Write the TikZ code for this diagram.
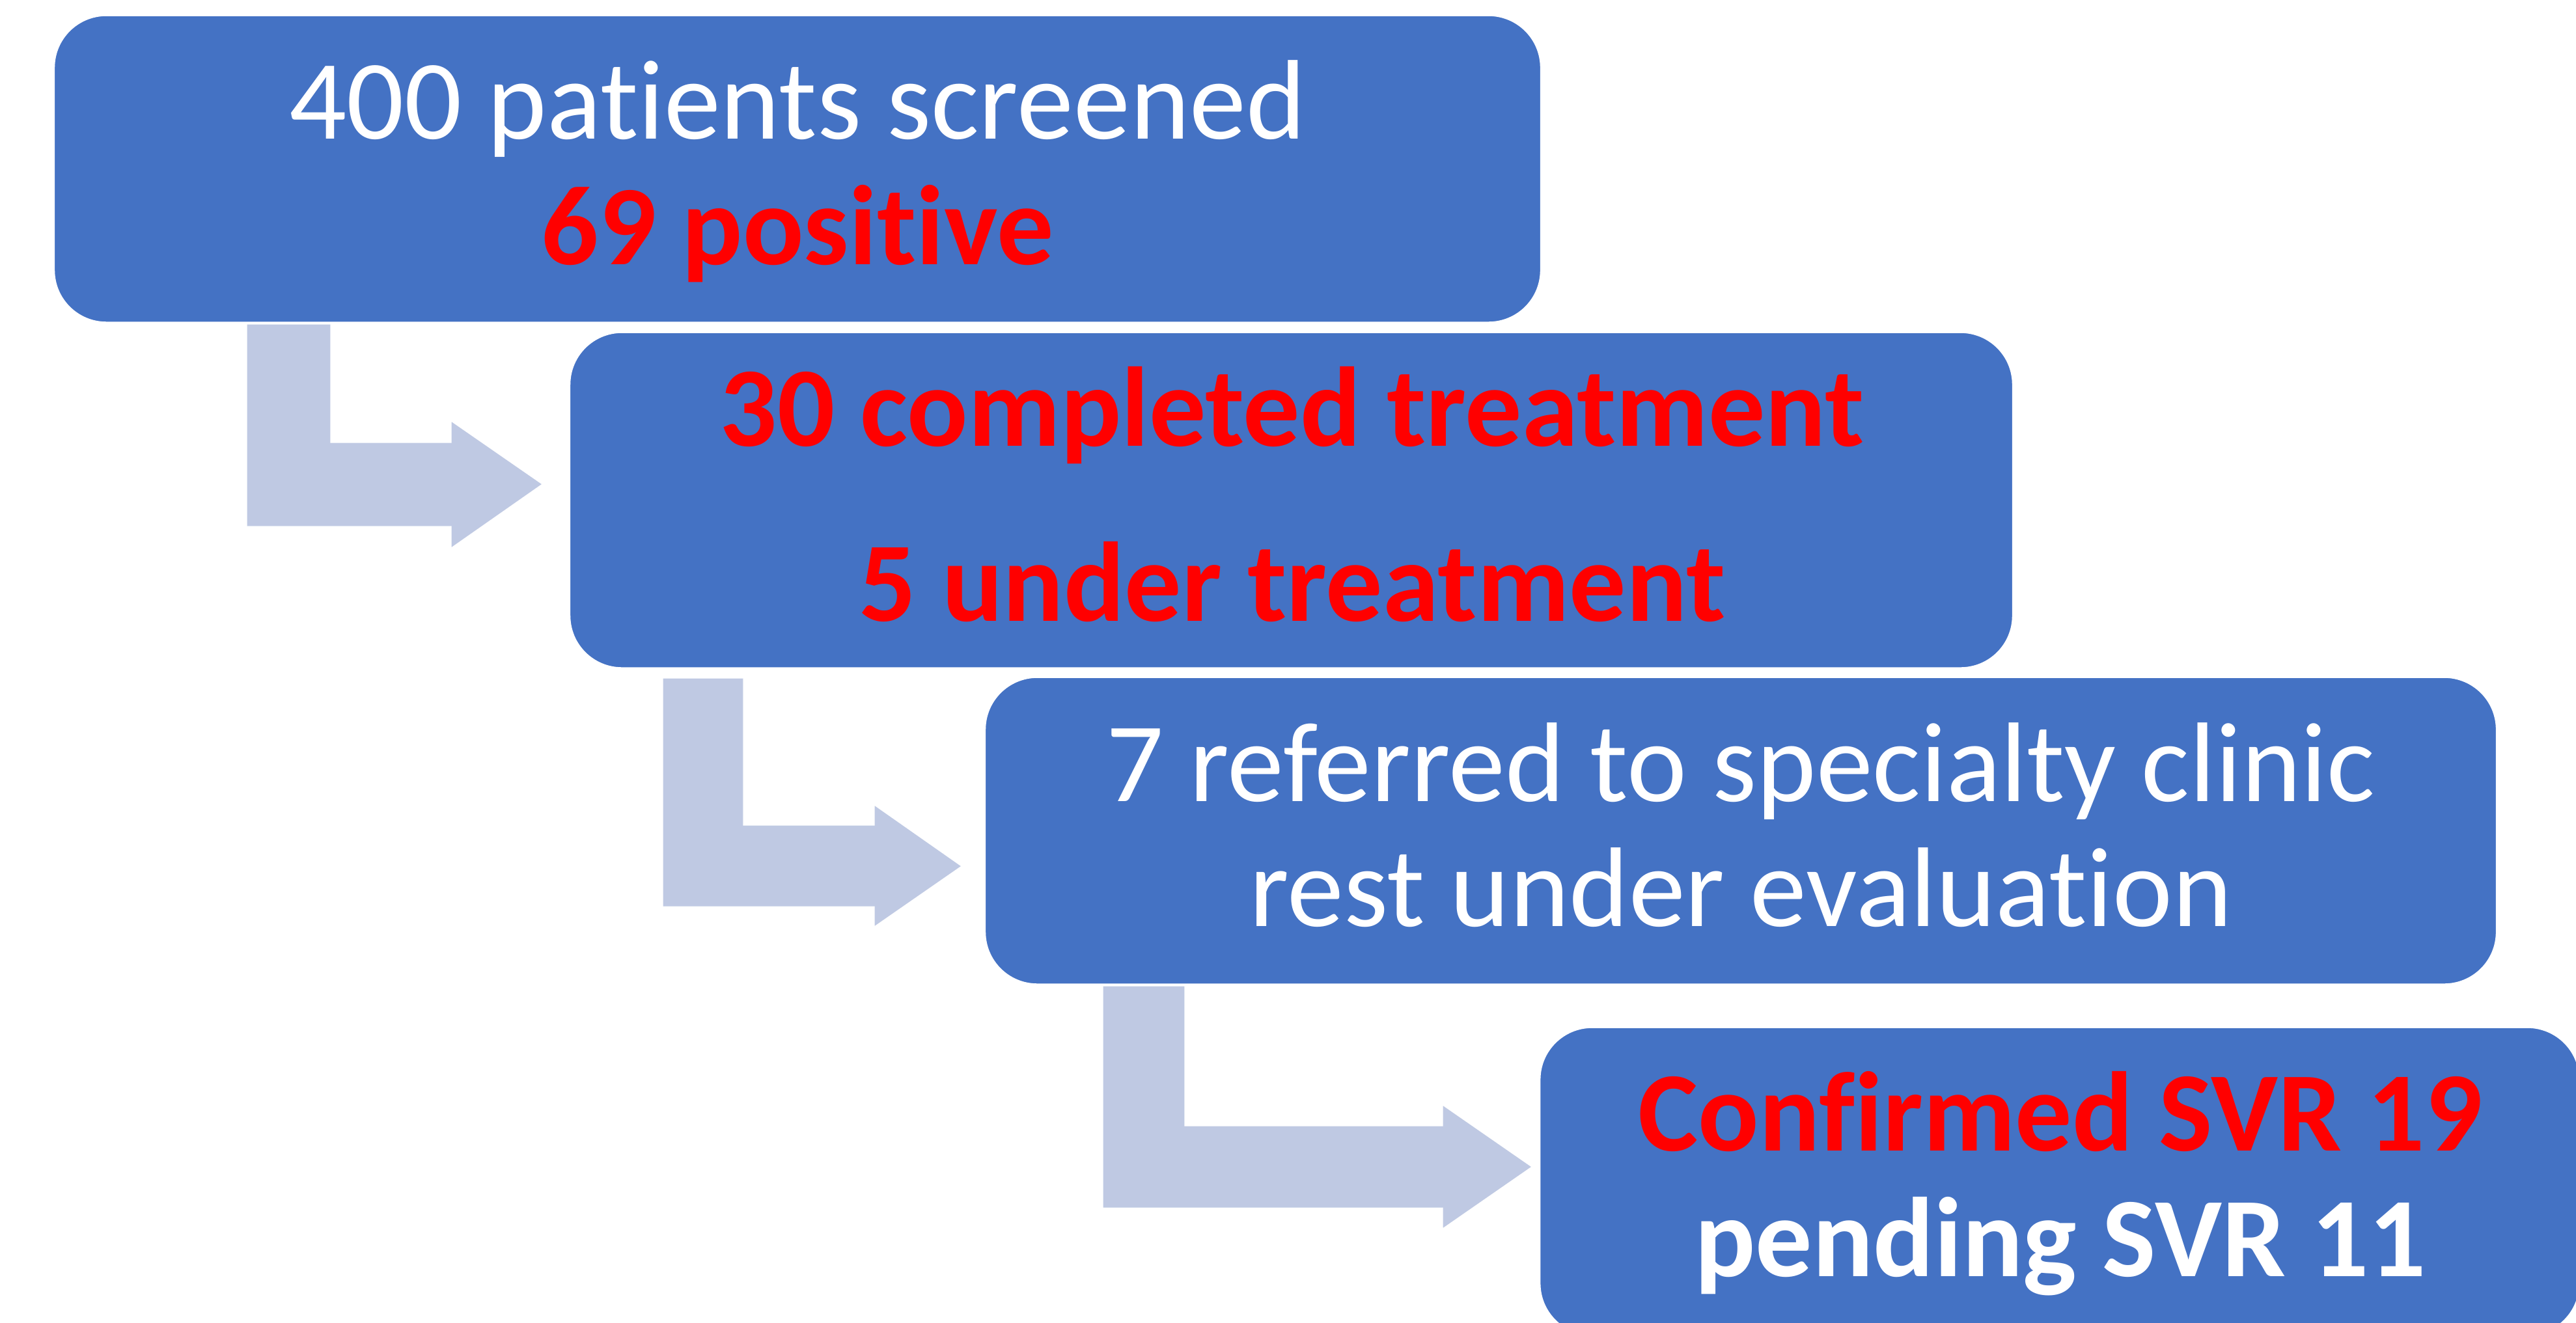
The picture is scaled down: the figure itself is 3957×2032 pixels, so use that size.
\documentclass[tikz,border=0pt]{standalone}
\usepackage{fontspec}
\setmainfont[Ligatures={NoCommon,NoRare}]{Carlito}
\definecolor{stageblue}{HTML}{4472C4}
\definecolor{flowgray}{RGB}{191,201,227}
\definecolor{alertred}{HTML}{FF0000}

\begin{document}
\begin{tikzpicture}[x=0.01cm, y=-0.01cm,
  stage/.style={rectangle, fill=stageblue, draw=white, line width=0.5pt,
                rounded corners=0.8cm, inner sep=0pt},
  bentarrow/.style={fill=flowgray, draw=white, line width=0.3pt},
  plain/.style={anchor=base, inner sep=0pt, text=white,
                font=\fontsize{49.5}{59}\selectfont},
  boldwhite/.style={anchor=base, inner sep=0pt, text=white,
                font=\fontsize{49.5}{59}\selectfont\bfseries},
  boldred/.style={anchor=base, inner sep=0pt, text=alertred,
                font=\fontsize{49.5}{59}\selectfont\bfseries}]

  % canvas
  \path[use as bounding box] (0,0) rectangle (3957,2032);
  \clip (0,0) rectangle (3957,2032);
  \fill[white] (0,0) rectangle (3957,2032);

  % stage boxes
  \node[stage, minimum width=22.82cm, minimum height=4.71cm] (s1) at (1225,259.5) {};
  \node[stage, minimum width=22.15cm, minimum height=5.15cm] (s2) at (1983.5,768.5) {};
  \node[stage, minimum width=23.20cm, minimum height=4.71cm] (s3) at (2674,1276.5) {};
  \node[stage, minimum width=15.96cm, minimum height=4.73cm] (s4) at (3164,1815.5) {};

  % bent arrows between the stages
  \path[bentarrow] (379,498) -- (508,498) -- (508,680) -- (693,680) -- (693,647)
      -- (833,744) -- (693,842) -- (693,809) -- (379,809) -- cycle;
  \path[bentarrow] (1018,1042) -- (1142,1042) -- (1142,1268) -- (1343,1268) -- (1343,1237)
      -- (1477,1331) -- (1343,1424) -- (1343,1393) -- (1018,1393) -- cycle;
  \path[bentarrow] (1694,1515) -- (1820,1515) -- (1820,1730) -- (2216,1730) -- (2216,1698)
      -- (2353,1793) -- (2216,1888) -- (2216,1856) -- (1694,1856) -- cycle;

  % stage texts
  \node[plain]   (t1a) at (1225,213) {400 patients screened};
  \node[boldred] (t1b) at (1225,406) {69 positive};

  \node[boldred] (t2a) at (1985,685) {30 completed treatment};
  \node[boldred] (t2b) at (1985,954) {5 under treatment};

  \node[plain]   (t3a) at (2674,1231) {7 referred to specialty clinic};
  \node[plain]   (t3b) at (2674,1423) {rest under evaluation};

  \node[boldred]   (t4a) at (3165,1768) {Confirmed SVR 19};
  \node[boldwhite] (t4b) at (3165,1961) {pending SVR 11};
\end{tikzpicture}
\end{document}
